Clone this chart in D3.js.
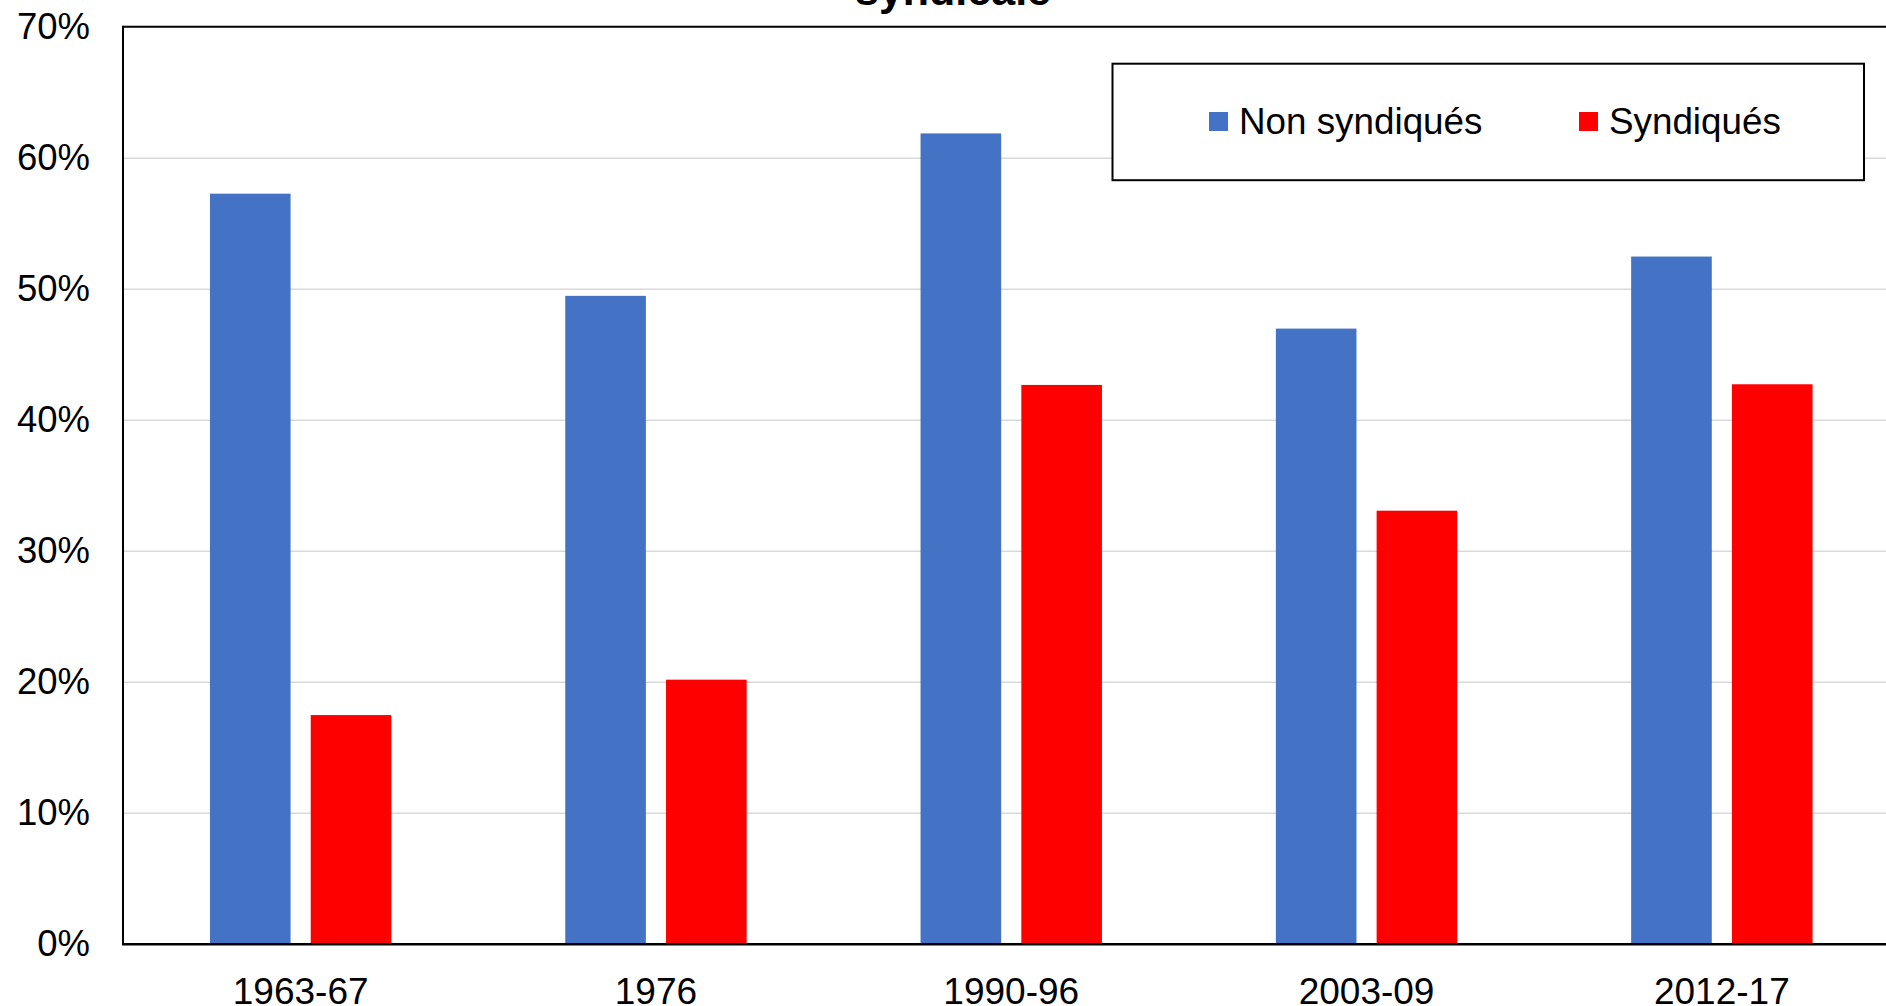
<!DOCTYPE html>
<html>
<head>
<meta charset="utf-8">
<script src="https://cdn.jsdelivr.net/npm/d3@7"></script>
<style>
  html, body { margin: 0; padding: 0; background: #fff; }
  svg { display: block; font-family: "Liberation Sans", Arial, sans-serif; }
</style>
</head>
<body>
<svg id="chart" width="1886" height="1006"></svg>
<script>
const categories = ["1963-67", "1976", "1990-96", "2003-09", "2012-17"];
const seriesNames = ["Non syndiqués", "Syndiqués"];
const nonSyndiques = [0.573, 0.495, 0.619, 0.470, 0.525];
const syndiques = [0.175, 0.202, 0.427, 0.331, 0.4275];
const yTicks = [0, 0.1, 0.2, 0.3, 0.4, 0.5, 0.6, 0.7];
const colors = ["#4472C4", "#FF0000"];
const titleText = "syndicale";

(function () {
const svg = d3.select("#chart");
const W = 1886;
const pLeft = 123, pTop = 27.3, pBottom = 944.3, pRight = 1899.5;

const x = d3.scaleBand().domain(categories).range([pLeft, pRight]).padding(0);
const xs = d3.scaleBand().domain(seriesNames).range([-90.7, 90.7]).paddingInner(0.2).paddingOuter(0);
const y = d3.scaleLinear().domain([0, 0.7]).range([pBottom, pTop]);

// title (mostly off-canvas)
svg.append("text")
  .attr("x", 953).attr("y", 5)
  .attr("text-anchor", "middle")
  .attr("font-weight", "bold")
  .attr("font-size", 43)
  .text(titleText);

// gridlines
svg.append("g")
  .selectAll("line")
  .data(yTicks.filter(d => d > 0 && d < 0.7))
  .join("line")
  .attr("x1", pLeft).attr("x2", W)
  .attr("y1", d => y(d)).attr("y2", d => y(d))
  .attr("stroke", "#d9d9d9").attr("stroke-width", 1.6);

// bars
const data = categories.map((c, i) => ({ c, vals: [nonSyndiques[i], syndiques[i]] }));
const groups = svg.append("g").selectAll("g")
  .data(data).join("g")
  .attr("transform", d => `translate(${x(d.c) + x.bandwidth() / 2},0)`);
groups.selectAll("rect")
  .data(d => d.vals.map((v, j) => ({ v, s: seriesNames[j], j })))
  .join("rect")
  .attr("x", d => xs(d.s))
  .attr("width", xs.bandwidth())
  .attr("y", d => y(d.v))
  .attr("height", d => y(0) - y(d.v))
  .attr("fill", d => colors[d.j]);

// frame: top border, left axis, bottom axis
svg.append("line").attr("x1", pLeft).attr("x2", W).attr("y1", pTop - 0.6).attr("y2", pTop - 0.6)
  .attr("stroke", "#000").attr("stroke-width", 2);
svg.append("line").attr("x1", pLeft).attr("x2", pLeft).attr("y1", pTop - 1.6).attr("y2", pBottom)
  .attr("stroke", "#000").attr("stroke-width", 2);
svg.append("line").attr("x1", pLeft - 1).attr("x2", W).attr("y1", pBottom).attr("y2", pBottom)
  .attr("stroke", "#000").attr("stroke-width", 2.6);

// y axis labels
const yAxis = d3.axisLeft(y).tickValues(yTicks).tickFormat(d3.format(".0%")).tickSize(0).tickPadding(33);
const gy = svg.append("g").attr("transform", `translate(${pLeft},0)`).call(yAxis);
gy.select(".domain").remove();
gy.selectAll("text").attr("font-size", 36.5).attr("fill", "#000")
  .attr("font-family", "Liberation Sans, Arial, sans-serif");

// x axis labels
const xAxis = d3.axisBottom(x).tickSize(0).tickPadding(33);
const gx = svg.append("g").attr("transform", `translate(0,${pBottom})`).call(xAxis);
gx.select(".domain").remove();
gx.selectAll("text").attr("font-size", 37).attr("fill", "#000")
  .attr("font-family", "Liberation Sans, Arial, sans-serif");

// legend
const lg = svg.append("g");
lg.append("rect").attr("x", 1112.5).attr("y", 63.7).attr("width", 751.5).attr("height", 116.5)
  .attr("fill", "#fff").attr("stroke", "#000").attr("stroke-width", 2);
const legendX = [1209, 1579];
seriesNames.forEach((name, i) => {
  lg.append("rect").attr("x", legendX[i]).attr("y", 112).attr("width", 19).attr("height", 19)
    .attr("fill", colors[i]);
  lg.append("text").attr("x", legendX[i] + 30).attr("y", 121.5)
    .attr("dy", "0.35em").attr("font-size", 36.8).attr("fill", "#000")
    .text(name);
});
})();
</script>
</body>
</html>
